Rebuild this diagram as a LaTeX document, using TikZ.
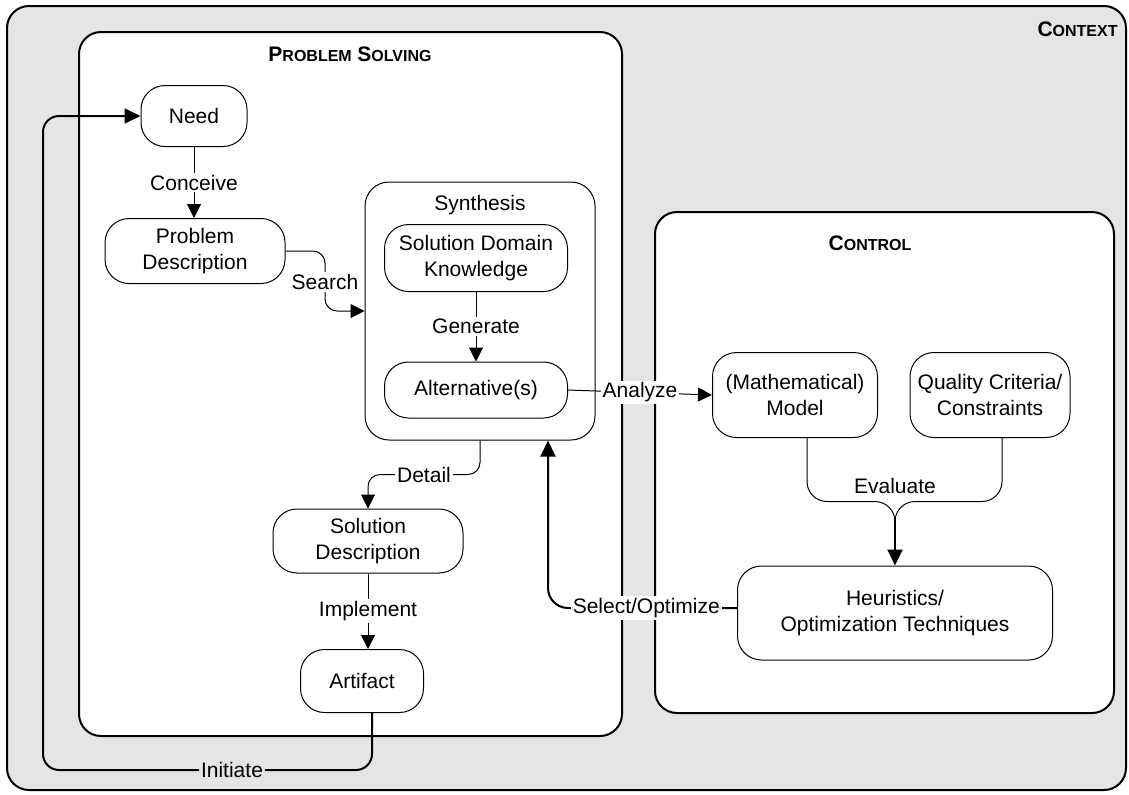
\documentclass[tikz,border=0pt]{standalone}
\usepackage{fontspec}
\setmainfont{Liberation Sans}
\usepackage{xcolor}
\usetikzlibrary{positioning,calc,arrows.meta}
\definecolor{ctxgray}{gray}{0.9}
\newcommand\fakesc[2]{{\fontsize{10.5}{12}\selectfont #1}{\fontsize{8}{9}\selectfont #2}}

\begin{document}
\begin{tikzpicture}[x=0.5pt, y=-0.5pt,
  font=\fontsize{10.5}{13}\selectfont,
  >={Triangle[length=7pt,width=7pt]},
  box/.style={draw, line width=0.5pt, rounded corners=12pt, fill=white, align=center, inner sep=0pt},
  frame/.style={draw, line width=1pt, rounded corners=11pt},
  title/.style={font=\bfseries, inner sep=0pt},
  lbl/.style={fill=white, inner sep=1pt},
  thinline/.style={line width=0.5pt},
  thickline/.style={line width=1pt, >={Triangle[length=8pt,width=7.5pt]}}]
  \useasboundingbox (0,0) rectangle (1129,794);

  % frames
  \draw[frame, fill=ctxgray] (7,6) rectangle (1126,790);
  \draw[frame, fill=white] (79,32) rectangle (622,736);
  \draw[frame, fill=white] (655,212) rectangle (1114,713);
  \node[title, anchor=east] (ctxtitle) at (1118,29) {\fakesc{C}{ONTEXT}};
  \node[title] (pstitle) at (350,54) {\fakesc{P}{ROBLEM} \fakesc{S}{OLVING}};
  \node[title] (ctltitle) at (870,243) {\fakesc{C}{ONTROL}};

  % problem solving
  \node[box, minimum width=53pt, minimum height=30.5pt] (need) at (194,116) {Need};
  \node[box, minimum width=90pt, minimum height=32.5pt] (probdesc) at (195,251) {Problem\\Description};
  \node[box, minimum width=115pt, minimum height=129pt] (synth) at (480,311) {};
  \node (synthlbl) at (480,205) {Synthesis};
  \node[box, minimum width=91.5pt, minimum height=33.5pt] (sdk) at (476,258) {Solution Domain\\Knowledge};
  \node[box, minimum width=91.5pt, minimum height=28pt] (alt) at (476,390) {Alternative(s)};
  \node[box, minimum width=95pt, minimum height=32pt] (soldesc) at (368,541) {Solution\\Description};
  \node[box, minimum width=61.5pt, minimum height=31.5pt] (artifact) at (362,681) {Artifact};

  % control
  \node[box, minimum width=82.5pt, minimum height=42.5pt] (model) at (795,395) {(Mathematical)\\Model};
  \node[box, minimum width=80pt, minimum height=42.5pt] (quality) at (990,395) {Quality Criteria/\\Constraints};
  \node[box, minimum width=157.5pt, minimum height=47pt] (heur) at (895,613) {Heuristics/\\Optimization Techniques};

  % connectors
  \draw[thinline, ->] (need.south) -- node[lbl] {Conceive} (need.south |- probdesc.north);
  \coordinate (searchpt) at (325,282);
  \draw[thinline, ->, rounded corners=6pt] (probdesc.east) -| (searchpt) |- (synth.west);
  \node[lbl] (search) at (searchpt) {Search};
  \draw[thinline, ->] (sdk.south) -- node[lbl] {Generate} (alt.north);
  \draw[thinline, ->] (alt.east) -- node[lbl] {Analyze} (model.west);

  \coordinate (evaljoin) at ($(heur.north)+(0,-64)$);
  \draw[thinline, rounded corners=10pt] ([xshift=6pt]model.south) |- (evaljoin) -- ++(0,20);
  \draw[thinline, rounded corners=10pt] ([xshift=6pt]quality.south) |- (evaljoin) -- ++(0,20);
  \draw[thickline, ->] ([yshift=-8pt]evaljoin) -- (heur.north);
  \node (evallbl) at ($(evaljoin)+(0,-16)$) {Evaluate};

  \draw[thickline, ->, rounded corners=10pt] ([yshift=2.5pt]heur.west) -| node[lbl, pos=0.24] {Select/Optimize} ([xshift=34pt]synth.south);

  \coordinate (detailmid) at ($(synth.south)!0.5!(soldesc.north)$);
  \draw[thinline, ->, rounded corners=6pt] (synth.south) |- (detailmid) -| (soldesc.north);
  \node[lbl] (detail) at (detailmid) {Detail};

  \draw[thinline, ->] (soldesc.south) -- node[lbl] {Implement} (soldesc.south |- artifact.north);

  \coordinate (loopcorner) at (43,770);
  \draw[thickline, ->, rounded corners=8pt] ([xshift=5pt]artifact.south) |- (loopcorner) |- (need.west);
  \node[lbl, fill=ctxgray] (initiate) at (232,770) {Initiate};
\end{tikzpicture}
\end{document}
